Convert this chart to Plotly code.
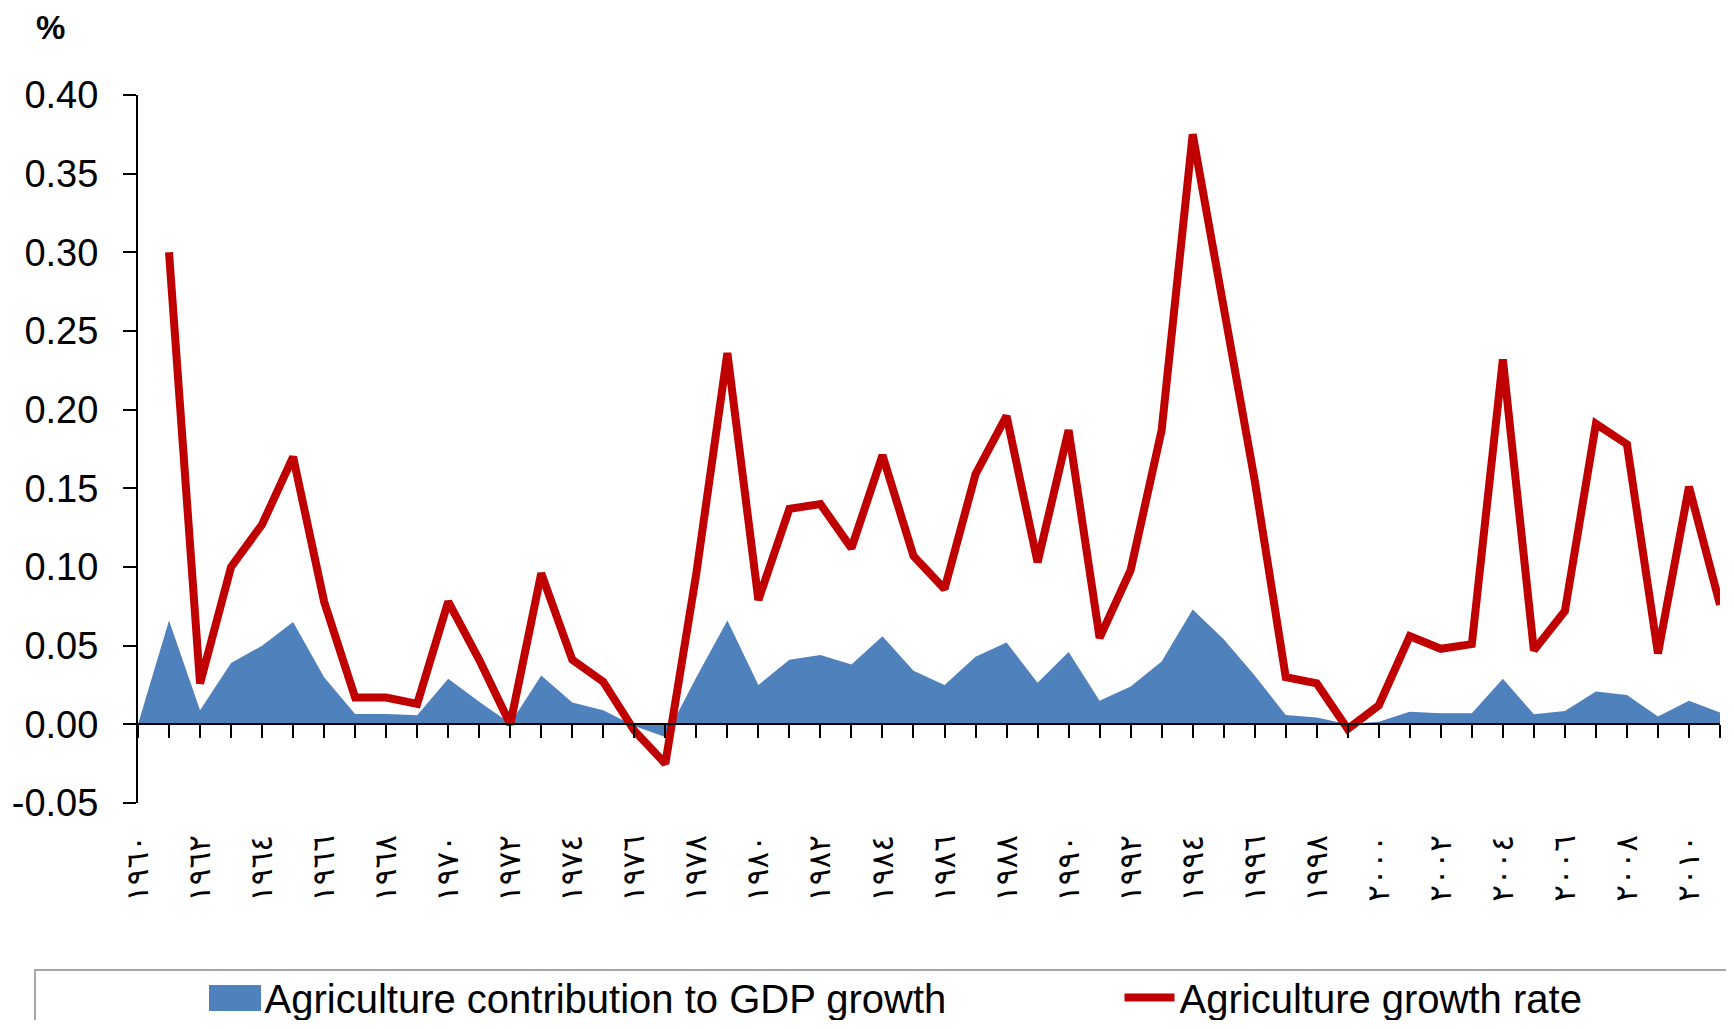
import plotly.graph_objects as go

# years on the category axis
years = list(range(1960, 2012))

# agriculture contribution to GDP growth (blue area)
contribution = [
    0.000, 0.066, 0.009, 0.039, 0.050, 0.065, 0.030, 0.0065, 0.0066, 0.0057,
    0.029, 0.0144, 0.0006, 0.031, 0.0138, 0.009, -0.001, -0.008, 0.030, 0.066,
    0.025, 0.041, 0.044, 0.038, 0.056, 0.034, 0.025, 0.043, 0.052, 0.0265,
    0.046, 0.015, 0.024, 0.040, 0.073, 0.054, 0.031, 0.0059, 0.0044, 0.000,
    0.0017, 0.008, 0.007, 0.007, 0.029, 0.0064, 0.0085, 0.0208, 0.0186, 0.0049,
    0.015, 0.0076,
]

# agriculture growth rate (red line), no value for 1960
growth = [
    None, 0.300, 0.026, 0.100, 0.127, 0.170, 0.078, 0.017, 0.017, 0.013,
    0.078, 0.041, 0.000, 0.096, 0.041, 0.027, -0.004, -0.025, 0.096, 0.236,
    0.079, 0.137, 0.140, 0.112, 0.171, 0.107, 0.086, 0.159, 0.196, 0.103,
    0.187, 0.055, 0.098, 0.187, 0.375, 0.265, 0.155, 0.030, 0.026, -0.003,
    0.012, 0.056, 0.048, 0.051, 0.232, 0.047, 0.072, 0.191, 0.178, 0.045,
    0.151, 0.076,
]

# x tick labels (every second year, Arabic-Indic digits)
label_years = list(range(1960, 2011, 2))
label_text = [
    "١٩٦٠", "١٩٦٢", "١٩٦٤", "١٩٦٦", "١٩٦٨", "١٩٧٠", "١٩٧٢", "١٩٧٤", "١٩٧٦",
    "١٩٧٨", "١٩٨٠", "١٩٨٢", "١٩٨٤", "١٩٨٦", "١٩٨٨", "١٩٩٠", "١٩٩٢", "١٩٩٤",
    "١٩٩٦", "١٩٩٨", "٢٠٠٠", "٢٠٠٢", "٢٠٠٤", "٢٠٠٦", "٢٠٠٨", "٢٠١٠",
]

# y tick labels
y_ticks = [-0.05, 0.0, 0.05, 0.10, 0.15, 0.20, 0.25, 0.30, 0.35, 0.40]
y_text = ["-0.05", "0.00", "0.05", "0.10", "0.15", "0.20", "0.25", "0.30", "0.35", "0.40"]

BLUE = "#4F81BD"
RED = "#C00000"

# the page body keeps an 8px margin, so the figure is 16px smaller than the window
W, H = 1718, 1012
M_L, M_R, M_T, M_B = 130, 6, 87, 217
PW, PH = W - M_L - M_R, H - M_T - M_B


def px_x(page_x):
    """page pixel -> paper x"""
    return (page_x - 8 - M_L) / PW


def px_y(page_y):
    """page pixel -> paper y"""
    return (H - M_B - (page_y - 8)) / PH


fig = go.Figure()
fig.add_trace(
    go.Scatter(
        x=years,
        y=contribution,
        name="Agriculture contribution to GDP growth",
        mode="lines",
        fill="tozeroy",
        fillcolor=BLUE,
        line={"width": 0, "color": BLUE},
        xaxis="x",
        yaxis="y",
        legend="legend",
    )
)
fig.add_trace(
    go.Scatter(
        x=years,
        y=growth,
        name="Agriculture growth rate",
        mode="lines",
        line={"width": 8, "color": RED},
        connectgaps=False,
        xaxis="x2",
        yaxis="y",
        legend="legend2",
    )
)

legend_common = {
    "orientation": "h",
    "xanchor": "left",
    "yanchor": "top",
    "y": px_y(965),
    "font": {"size": 40},
    "itemwidth": 50,
    "bgcolor": "rgba(0,0,0,0)",
    "borderwidth": 0,
}

fig.update_layout(
    width=W,
    height=H,
    paper_bgcolor="white",
    plot_bgcolor="white",
    font={"family": "Liberation Sans, Arial, sans-serif", "color": "black", "size": 38},
    margin={"l": M_L, "r": M_R, "t": M_T, "b": M_B, "autoexpand": False},
    showlegend=True,
    # bottom axis only carries the rotated year labels
    xaxis={
        "range": [1960, 2011],
        "showline": False,
        "showgrid": False,
        "zeroline": False,
        "ticks": "",
        "tickmode": "array",
        "tickvals": label_years,
        "ticktext": label_text,
        "tickangle": -90,
        "tickfont": {"family": "DejaVu Sans", "size": 31},
        "ticklabelstandoff": 25,
        "automargin": False,
    },
    # axis line through zero with a tick on every year
    xaxis2={
        "overlaying": "x",
        "matches": "x",
        "anchor": "free",
        "position": 0.05 / 0.45,
        "showline": True,
        "linecolor": "black",
        "linewidth": 2,
        "ticks": "outside",
        "ticklen": 13,
        "tickwidth": 2,
        "tickcolor": "black",
        "tickmode": "linear",
        "tick0": 1960,
        "dtick": 1,
        "showticklabels": False,
        "showgrid": False,
        "zeroline": False,
        "automargin": False,
    },
    yaxis={
        "range": [-0.05, 0.40],
        "tickmode": "array",
        "tickvals": y_ticks,
        "ticktext": y_text,
        "showline": True,
        "linecolor": "black",
        "linewidth": 2,
        "ticks": "outside",
        "ticklen": 13,
        "tickwidth": 2,
        "tickcolor": "black",
        "showgrid": False,
        "zeroline": False,
        "ticklabelstandoff": 17,
        "automargin": False,
    },
    legend={**legend_common, "x": px_x(204.5)},
    legend2={**legend_common, "x": px_x(1119.5)},
    shapes=[
        # legend frame, open towards the right and bottom edges
        {
            "type": "rect",
            "xref": "paper",
            "yref": "paper",
            "x0": px_x(35),
            "x1": 1.2,
            "y0": px_y(970),
            "y1": -0.6,
            "line": {"color": "#A6A6A6", "width": 2},
            "layer": "below",
        },
        # larger key block for the area series
        {
            "type": "rect",
            "xref": "paper",
            "yref": "paper",
            "x0": px_x(209),
            "x1": px_x(261),
            "y0": px_y(1011),
            "y1": px_y(985),
            "line": {"width": 0},
            "fillcolor": BLUE,
            "layer": "above",
        },
    ],
    annotations=[
        {
            "text": "<b>%</b>",
            "xref": "paper",
            "yref": "paper",
            "x": px_x(50),
            "y": px_y(28),
            "xanchor": "center",
            "yanchor": "middle",
            "showarrow": False,
            "font": {"size": 33},
        }
    ],
)

fig.write_html("out.html")
